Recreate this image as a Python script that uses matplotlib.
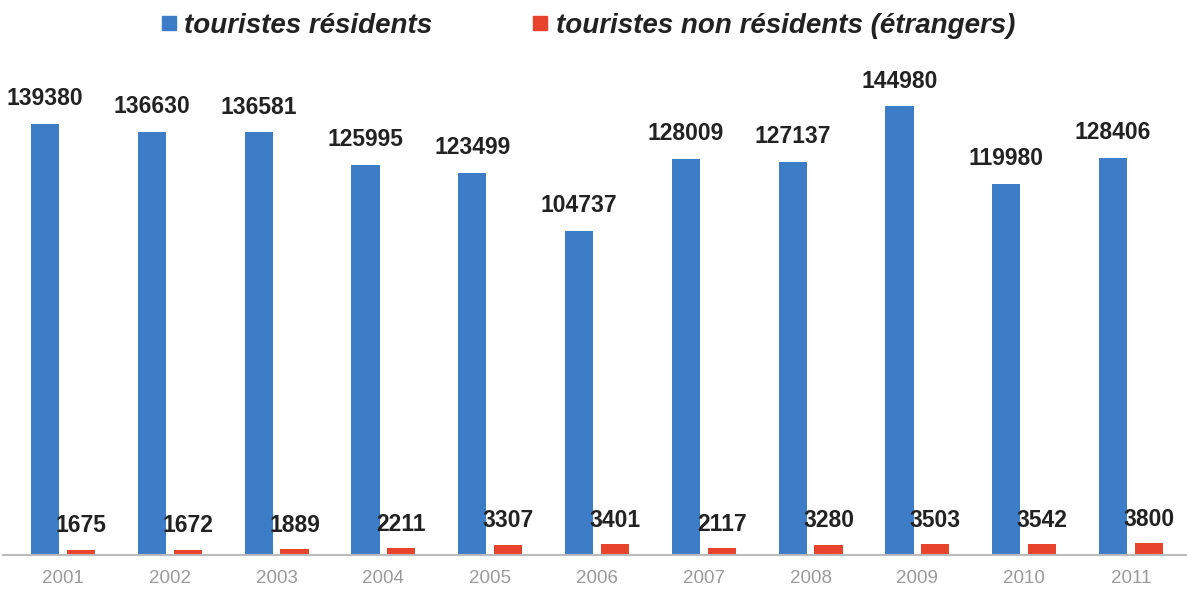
import numpy as np
import matplotlib.pyplot as plt
from matplotlib.lines import Line2D

# data
years = ["2001", "2002", "2003", "2004", "2005", "2006",
         "2007", "2008", "2009", "2010", "2011"]
residents = [139380, 136630, 136581, 125995, 123499, 104737,
             128009, 127137, 144980, 119980, 128406]
non_residents = [1675, 1672, 1889, 2211, 3307, 3401,
                 2117, 3280, 3503, 3542, 3800]
series_names = ["touristes résidents", "touristes non résidents (étrangers)"]

BLUE = "#3D7CC6"
RED = "#E8432D"
TXT = "#222222"

plt.rcParams['font.family'] = ['Liberation Sans', 'DejaVu Sans']

fig = plt.figure(figsize=(11.87, 5.89), dpi=100)
ax = fig.add_axes([0, 34 / 589, 1, 495 / 589])

x = np.arange(len(years))
w = 0.265
off = 0.168
b1 = ax.bar(x - off, residents, w, color=BLUE, zorder=2)
b2 = ax.bar(x + off, non_residents, w, color=RED, zorder=2)

for rect, v in zip(b1, residents):
    ax.annotate(str(v), (rect.get_x() + rect.get_width() / 2, v),
                xytext=(0, 10), textcoords="offset points",
                ha="center", va="bottom", fontsize=16.5, fontweight="bold", color=TXT)
for rect, v in zip(b2, non_residents):
    ax.annotate(str(v), (rect.get_x() + rect.get_width() / 2, v),
                xytext=(0, 9), textcoords="offset points",
                ha="center", va="bottom", fontsize=16.5, fontweight="bold", color=TXT)

ax.set_xlim(-63 / 106.8, (1187 - 63) / 106.8)
ax.set_ylim(0, 160000)
ax.set_xticks(x)
ax.set_xticklabels(years, fontsize=13.5, color="#9A9A9A")
ax.tick_params(axis="x", length=0, pad=11)
ax.set_yticks([])
for s in ["top", "right", "left"]:
    ax.spines[s].set_visible(False)
ax.spines["bottom"].set_color("#BBBBBB")
ax.spines["bottom"].set_linewidth(1.5)
ax.spines["bottom"].set_bounds(-60 / 106.8, (1187 - 63) / 106.8)

handles = [Line2D([], [], marker="s", linestyle="none", markersize=10,
                  markerfacecolor=c, markeredgecolor=c) for c in (BLUE, RED)]
leg = fig.legend(handles, series_names, loc="center", bbox_to_anchor=(0.495, 1 - 26 / 589),
                 ncol=2, frameon=False, handlelength=0.6, handletextpad=0.25,
                 columnspacing=3.6, prop={"size": 20, "weight": "bold", "style": "italic"})
for t in leg.get_texts():
    t.set_color(TXT)

fig.savefig("out.png", dpi=100, facecolor="white")
